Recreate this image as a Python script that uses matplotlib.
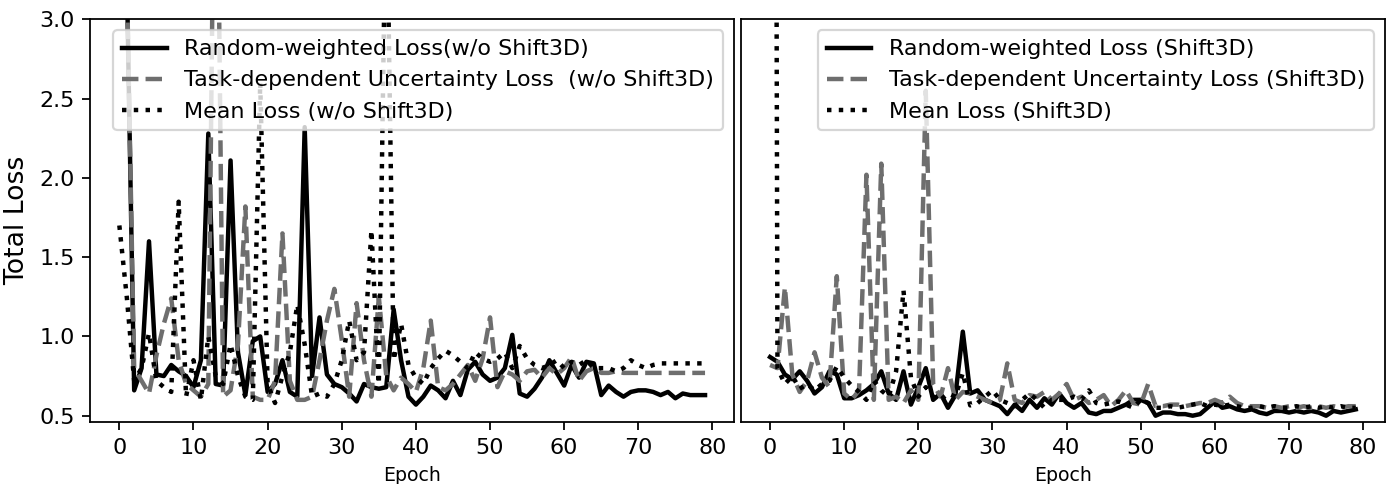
import matplotlib
matplotlib.use('Agg')
import matplotlib.pyplot as plt

epochs = list(range(80))

# without Shift3D (left)
rw_noshift = [4.0, 3.3, 0.66, 0.80, 1.60, 0.76, 0.75, 0.82, 0.78, 0.75,
              0.68, 0.85, 2.28, 0.70, 0.69, 2.11, 0.90, 0.63, 0.97, 1.00,
              0.65, 0.70, 0.85, 0.65, 0.62, 2.32, 0.75, 1.12, 0.76, 0.70,
              0.68, 0.64, 0.59, 0.70, 0.68, 0.67, 0.68, 1.17, 0.85, 0.62,
              0.57, 0.62, 0.69, 0.66, 0.61, 0.72, 0.63, 0.79, 0.84, 0.76,
              0.72, 0.74, 0.80, 1.01, 0.64, 0.62, 0.67, 0.74, 0.85, 0.77,
              0.69, 0.82, 0.74, 0.84, 0.83, 0.63, 0.69, 0.65, 0.62, 0.65,
              0.66, 0.66, 0.65, 0.63, 0.65, 0.61, 0.64, 0.63, 0.63, 0.63]
tdu_noshift = [4.0, 3.3, 0.80, 0.72, 0.64, 0.88, 1.08, 1.24, 0.85, 0.70,
               0.66, 0.62, 0.70, 5.10, 0.62, 0.66, 0.95, 1.82, 0.62, 0.60,
               0.60, 0.72, 1.65, 0.72, 0.60, 0.60, 0.62, 0.85, 1.10, 1.30,
               0.98, 0.62, 1.21, 0.85, 0.62, 1.25, 0.75, 0.66, 0.74, 0.70,
               0.65, 0.80, 1.10, 0.68, 0.66, 0.70, 0.76, 0.82, 0.72, 0.86,
               1.12, 0.68, 0.78, 0.76, 0.72, 0.78, 0.79, 0.74, 0.80, 0.76,
               0.80, 0.87, 0.72, 0.78, 0.80, 0.77, 0.77, 0.78, 0.77, 0.77,
               0.77, 0.77, 0.77, 0.77, 0.77, 0.77, 0.77, 0.77, 0.77, 0.77]
mean_noshift = [1.70, 1.25, 0.72, 0.80, 1.02, 0.72, 0.68, 0.65, 1.85, 0.62,
                0.85, 0.60, 1.00, 0.75, 0.70, 0.95, 0.75, 0.62, 0.60, 2.60,
                0.70, 0.58, 0.75, 0.90, 1.20, 0.95, 0.62, 0.64, 0.62, 0.70,
                0.85, 1.10, 0.85, 0.90, 1.67, 0.70, 4.00, 0.85, 1.08, 0.82,
                0.74, 0.70, 0.80, 0.86, 0.91, 0.88, 0.84, 0.80, 0.90, 0.86,
                0.84, 0.86, 0.90, 0.80, 0.94, 0.86, 0.82, 0.80, 0.82, 0.85,
                0.80, 0.84, 0.82, 0.85, 0.80, 0.80, 0.80, 0.78, 0.80, 0.85,
                0.82, 0.80, 0.82, 0.83, 0.83, 0.83, 0.83, 0.83, 0.83, 0.83]

# with Shift3D (right)
rw_shift = [0.87, 0.84, 0.76, 0.73, 0.78, 0.72, 0.64, 0.68, 0.78, 0.76,
            0.61, 0.61, 0.63, 0.66, 0.70, 0.78, 0.64, 0.60, 0.78, 0.57,
            0.68, 0.80, 0.60, 0.64, 0.55, 0.63, 1.03, 0.64, 0.66, 0.60,
            0.58, 0.56, 0.51, 0.57, 0.53, 0.60, 0.55, 0.61, 0.57, 0.64,
            0.58, 0.55, 0.58, 0.52, 0.51, 0.53, 0.53, 0.55, 0.57, 0.60,
            0.60, 0.58, 0.50, 0.52, 0.52, 0.51, 0.51, 0.50, 0.51, 0.55,
            0.59, 0.55, 0.56, 0.54, 0.53, 0.54, 0.52, 0.51, 0.53, 0.53,
            0.52, 0.53, 0.52, 0.53, 0.52, 0.50, 0.53, 0.52, 0.53, 0.54]
tdu_shift = [0.82, 0.80, 1.31, 0.76, 0.65, 0.72, 0.90, 0.74, 0.68, 1.38,
             0.64, 0.60, 0.66, 2.02, 0.60, 2.09, 0.60, 0.62, 0.58, 0.66,
             0.60, 2.55, 0.70, 0.62, 0.80, 0.60, 0.65, 0.64, 0.62, 0.60,
             0.58, 0.60, 0.83, 0.60, 0.58, 0.63, 0.62, 0.65, 0.60, 0.64,
             0.70, 0.60, 0.62, 0.58, 0.60, 0.63, 0.56, 0.60, 0.66, 0.58,
             0.57, 0.70, 0.56, 0.56, 0.57, 0.57, 0.56, 0.57, 0.58, 0.58,
             0.60, 0.58, 0.62, 0.58, 0.56, 0.56, 0.56, 0.55, 0.56, 0.55,
             0.56, 0.55, 0.56, 0.55, 0.56, 0.55, 0.56, 0.55, 0.56, 0.56]
mean_shift = [20.0, 0.80, 0.70, 0.75, 0.67, 0.70, 0.66, 0.70, 0.72, 0.81,
              0.74, 0.69, 0.65, 0.60, 0.72, 0.66, 0.62, 0.78, 1.29, 0.74,
              0.62, 0.68, 0.62, 0.60, 0.64, 0.62, 0.77, 0.565, 0.58, 0.62,
              0.66, 0.60, 0.58, 0.56, 0.60, 0.64, 0.60, 0.55, 0.60, 0.60,
              0.60, 0.62, 0.60, 0.66, 0.58, 0.57, 0.58, 0.59, 0.57, 0.55,
              0.60, 0.58, 0.55, 0.55, 0.56, 0.55, 0.56, 0.57, 0.58, 0.56,
              0.57, 0.56, 0.57, 0.56, 0.55, 0.55, 0.56, 0.55, 0.56, 0.55,
              0.55, 0.56, 0.55, 0.56, 0.55, 0.56, 0.55, 0.56, 0.55, 0.55]

lw = 2.0
gray = '#6e6e6e'

fig, (ax1, ax2) = plt.subplots(1, 2, sharey=True, figsize=(8.7, 3.025), dpi=160)
fig.subplots_adjust(left=0.0647, right=0.995, bottom=0.128, top=0.960, wspace=0.01)

ax1.plot(epochs, rw_noshift, color='black', lw=lw, label='Random-weighted Loss(w/o Shift3D)')
ax1.plot(epochs, tdu_noshift, '--', color=gray, lw=lw, label='Task-dependent Uncertainty Loss  (w/o Shift3D)')
ax1.plot(epochs, mean_noshift, ':', color='black', lw=lw, label='Mean Loss (w/o Shift3D)')

ax2.plot(epochs, rw_shift, color='black', lw=lw, label='Random-weighted Loss (Shift3D)')
ax2.plot(epochs, tdu_shift, '--', color=gray, lw=lw, label='Task-dependent Uncertainty Loss (Shift3D)')
ax2.plot(epochs, mean_shift, ':', color='black', lw=lw, label='Mean Loss (Shift3D)')

ax1.set_ylim(0.46, 3.0)
ax1.set_yticks([0.5, 1.0, 1.5, 2.0, 2.5, 3.0])
ax1.set_ylabel('Total Loss', fontsize=12)

for ax in (ax1, ax2):
    ax.set_xticks(range(0, 81, 10))
    ax.tick_params(labelsize=10)
    ax.set_xlabel('Epoch', fontsize=8.5)
    ax.legend(loc='upper right', fontsize=10)

ax2.tick_params(axis='y', left=False, labelleft=False)

plt.savefig('out.png', dpi=160)
